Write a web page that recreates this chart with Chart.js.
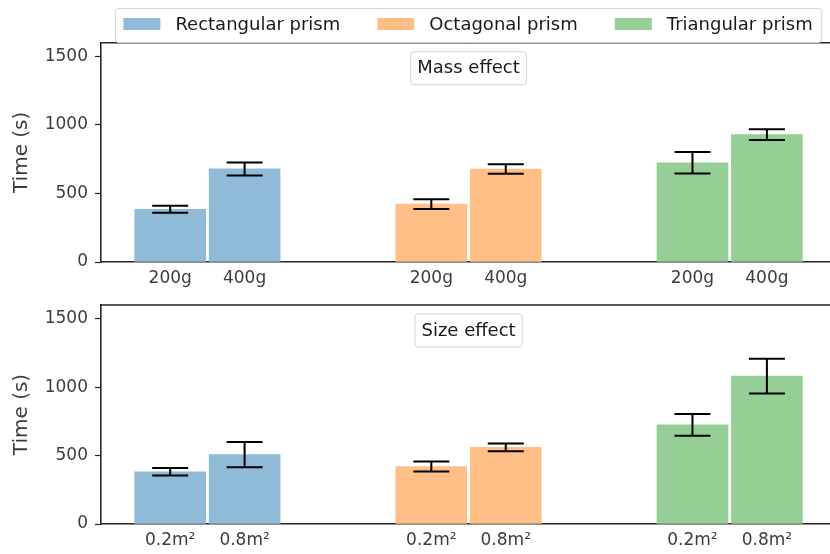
<!DOCTYPE html>
<html>
<head>
<meta charset="utf-8">
<script src="https://cdn.jsdelivr.net/npm/chart.js@4.4.1/dist/chart.umd.min.js"></script>
<style>
  html, body { margin: 0; padding: 0; background: #fff; overflow: hidden; }
  #wrap { position: relative; width: 830px; height: 554px; }
  canvas { position: absolute; left: 0; }
  #massChart { top: 0; }
  #sizeChart { top: 292px; }
</style>
</head>
<body>
<div id="wrap">
  <canvas id="massChart" width="830" height="292"></canvas>
  <canvas id="sizeChart" width="830" height="262"></canvas>
</div>
<script>
// Shapes tested and their colours
const shapes = ['Rectangular prism', 'Octagonal prism', 'Triangular prism'];
const shapeColors = ['#8fbbd9', '#ffbf86', '#95cf95'];

// Condition labels under each bar
const massLabels = ['200g', '400g'];
const sizeLabels = ['0.2m²', '0.8m²'];

// Y axis ticks (s)
const yTicks = [0, 500, 1000, 1500];

// Mean time (s) and error for each mass
const rectMass = [385, 679];
const rectMassErr = [25, 47];
const octMass = [422, 678];
const octMassErr = [36, 35];
const triMass = [724, 930];
const triMassErr = [78, 39];

// Mean time (s) and error for each surface area
const rectSize = [382, 507];
const rectSizeErr = [28, 93];
const octSize = [420, 560];
const octSizeErr = [37, 28];
const triSize = [724, 1080];
const triSizeErr = [80, 127];

const FONT = '"DejaVu Sans", "Liberation Sans", sans-serif';
Chart.defaults.font.family = FONT;

const BAR_OFFSET = 0.1425;   // half the spacing between the two bars in a group
const AXIS_COLOR = '#262626';
const TEXT_COLOR = '#3d3d3d';

function roundedRect(ctx, x, y, w, h, r) {
  ctx.beginPath();
  ctx.moveTo(x + r, y);
  ctx.arcTo(x + w, y, x + w, y + h, r);
  ctx.arcTo(x + w, y + h, x, y + h, r);
  ctx.arcTo(x, y + h, x, y, r);
  ctx.arcTo(x, y, x + w, y, r);
  ctx.closePath();
}

function makeDatasets(values, errors) {
  return shapes.map((name, s) => ({
    label: name,
    data: values[s].map((v, k) => ({ x: s + (k === 0 ? -BAR_OFFSET : BAR_OFFSET), y: v })),
    errors: errors[s],
    backgroundColor: shapeColors[s],
    borderWidth: 0,
    barThickness: 71,
    grouped: false
  }));
}

function tickPositions() {
  const out = [];
  shapes.forEach((_, s) => { out.push(s - BAR_OFFSET, s + BAR_OFFSET); });
  return out;
}

// Error bars with caps
const errorBars = {
  id: 'errorBars',
  afterDatasetsDraw(chart) {
    const { ctx } = chart;
    const y = chart.scales.y;
    ctx.save();
    ctx.strokeStyle = '#000';
    ctx.lineWidth = 2;
    chart.data.datasets.forEach((ds, i) => {
      chart.getDatasetMeta(i).data.forEach((bar, k) => {
        const v = ds.data[k].y, e = ds.errors[k];
        const top = y.getPixelForValue(v + e);
        const bot = y.getPixelForValue(v - e);
        const half = 18;
        ctx.beginPath();
        ctx.moveTo(bar.x, top); ctx.lineTo(bar.x, bot);
        ctx.moveTo(bar.x - half, top); ctx.lineTo(bar.x + half, top);
        ctx.moveTo(bar.x - half, bot); ctx.lineTo(bar.x + half, bot);
        ctx.stroke();
      });
    });
    ctx.restore();
  }
};

// Top spine of the plot frame
const topSpine = {
  id: 'topSpine',
  afterDraw(chart) {
    const { ctx, chartArea } = chart;
    ctx.save();
    ctx.strokeStyle = AXIS_COLOR;
    ctx.lineWidth = 1.6;
    ctx.beginPath();
    ctx.moveTo(chartArea.left - 0.8, chartArea.top);
    ctx.lineTo(chartArea.right, chartArea.top);
    ctx.stroke();
    ctx.restore();
  }
};

// Boxed panel title inside the plot area
const panelTitle = {
  id: 'panelTitle',
  afterDraw(chart, args, opts) {
    if (!opts.text) return;
    const { ctx, chartArea } = chart;
    const cx = chart.scales.x.getPixelForValue(1);
    ctx.save();
    ctx.font = '18px ' + FONT;
    const w = ctx.measureText(opts.text).width + 13;
    roundedRect(ctx, cx - w / 2, chartArea.top + 9, w, 33, 3);
    ctx.fillStyle = 'rgba(255,255,255,0.8)';
    ctx.fill();
    ctx.strokeStyle = '#d4d4d4';
    ctx.lineWidth = 1;
    ctx.stroke();
    ctx.fillStyle = '#1a1a1a';
    ctx.textAlign = 'center';
    ctx.textBaseline = 'alphabetic';
    ctx.fillText(opts.text, cx, chartArea.top + 30.5);
    ctx.restore();
  }
};

// Boxed legend above the plot, built from the datasets
const boxLegend = {
  id: 'boxLegend',
  afterDraw(chart, args, opts) {
    if (!opts.display) return;
    const { ctx } = chart;
    ctx.save();
    ctx.font = '18px ' + FONT;
    const items = chart.data.datasets.map(ds => ({
      text: ds.label, color: ds.backgroundColor, w: ctx.measureText(ds.label).width
    }));
    const patchW = 37, patchH = 12, gapText = 15, gapItem = 37, padL = 8, padR = 9;
    const total = padL + padR + gapItem * (items.length - 1) +
      items.reduce((s, it) => s + patchW + gapText + it.w, 0);
    const cx = chart.scales.x.getPixelForValue(1);
    const left = cx - total / 2, top = 8.5, h = 34;
    roundedRect(ctx, left, top, total, h, 3);
    ctx.fillStyle = 'rgba(255,255,255,0.8)';
    ctx.fill();
    ctx.strokeStyle = '#d4d4d4';
    ctx.lineWidth = 1;
    ctx.stroke();
    let x = left + padL;
    ctx.textBaseline = 'alphabetic';
    ctx.textAlign = 'left';
    items.forEach(it => {
      ctx.fillStyle = it.color;
      ctx.fillRect(x, 18, patchW, patchH);
      x += patchW + gapText;
      ctx.fillStyle = '#1a1a1a';
      ctx.fillText(it.text, x, 30);
      x += it.w + gapItem;
    });
    ctx.restore();
  }
};

function scaleOptions(labels) {
  return {
    x: {
      type: 'linear',
      min: -0.4074,
      max: 2.3841,
      offset: false,
      afterFit: s => { s.height = 30; },
      afterBuildTicks: s => { s.ticks = tickPositions().map(v => ({ value: v })); },
      ticks: {
        callback: (v, i) => labels[i % 2],
        autoSkip: false,
        maxRotation: 0,
        padding: 6,
        color: TEXT_COLOR,
        font: { size: 17 }
      },
      grid: { display: false, drawTicks: false },
      border: { display: true, color: AXIS_COLOR, width: 1.6 }
    },
    y: {
      min: 0,
      max: 1600,
      afterFit: s => { s.width = 101; s.paddingTop = 0; s.paddingBottom = 0; },
      afterBuildTicks: s => { s.ticks = yTicks.map(v => ({ value: v })); },
      ticks: {
        padding: 7,
        color: TEXT_COLOR,
        font: { size: 17 },
        callback: v => String(v)
      },
      grid: {
        drawOnChartArea: false,
        drawTicks: true,
        tickLength: 6,
        tickWidth: 1.2,
        color: AXIS_COLOR
      },
      border: { display: true, color: AXIS_COLOR, width: 1.6 },
      title: {
        display: true,
        text: 'Time (s)',
        color: TEXT_COLOR,
        font: { size: 20 },
        padding: { top: 10, bottom: 0 }
      }
    }
  };
}

function makeChart(id, labels, values, errors, title, showLegend, padTop) {
  return new Chart(document.getElementById(id), {
    type: 'bar',
    data: { datasets: makeDatasets(values, errors) },
    options: {
      responsive: false,
      animation: false,
      events: [],
      layout: { padding: { top: padTop, left: 0, right: 0, bottom: 0 } },
      scales: scaleOptions(labels),
      plugins: {
        legend: { display: false },
        tooltip: { enabled: false },
        panelTitle: { text: title },
        boxLegend: { display: showLegend }
      }
    },
    plugins: [errorBars, topSpine, panelTitle, boxLegend]
  });
}

makeChart('massChart', massLabels,
  [rectMass, octMass, triMass], [rectMassErr, octMassErr, triMassErr],
  'Mass effect', true, 42.7);

makeChart('sizeChart', sizeLabels,
  [rectSize, octSize, triSize], [rectSizeErr, octSizeErr, triSizeErr],
  'Size effect', false, 13);
</script>
</body>
</html>
